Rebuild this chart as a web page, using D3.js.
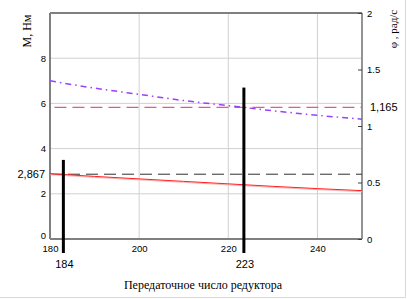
<!DOCTYPE html>
<html>
<head>
<meta charset="utf-8">
<script src="https://cdn.jsdelivr.net/npm/d3@7"></script>
<style>
  body { margin: 0; background: #fff; }
  svg text { font-family: "Liberation Sans", Arial, sans-serif; }
</style>
</head>
<body>
<div id="chartDiv"></div>
<script>
// data
const ratio = [180, 190, 200, 210, 220, 230, 240, 250];
const torque = [2.89, 2.77, 2.66, 2.55, 2.44, 2.33, 2.23, 2.14];      // М, Нм (left axis)
const omega = [1.40, 1.335, 1.28, 1.225, 1.18, 1.135, 1.095, 1.06];   // φ, рад/с (right axis)
const torqueLevel = 2.867;
const omegaLevel = 1.165;
const markerX = [183, 223.5];
const markerTop = [3.5, 6.7];
const markerLabels = ["184", "223"];
const xTicks = [180, 200, 220, 240];
const yTicks = [0, 2, 4, 6, 8];
const y2Ticks = [0, 0.5, 1, 1.5, 2];

var canvasW = 408, canvasH = 299;
const margin = {top: 13, right: 46, bottom: 60, left: 50};
const graphWidth = canvasW - margin.left - margin.right;
const graphHeight = canvasH - margin.top - margin.bottom;

const svg = d3.select('#chartDiv').append('svg')
  .attr('width', canvasW).attr('height', canvasH);

const graph = svg.append('g')
  .attr('transform', `translate(${margin.left},${margin.top})`);

//scales
const x = d3.scaleLinear().domain([180, 250]).range([0, graphWidth]);
const y = d3.scaleLinear().domain([0, 10]).range([graphHeight, 0]);
const y2 = d3.scaleLinear().domain([0, 2]).range([graphHeight, 0]);

// grid
graph.selectAll('.vgrid').data(xTicks.slice(1)).enter().append('line')
  .attr('x1', d => x(d)).attr('x2', d => x(d))
  .attr('y1', 0).attr('y2', graphHeight)
  .attr('stroke', '#d0d0d0').attr('stroke-width', 1);
graph.selectAll('.hgrid').data(yTicks.slice(1)).enter().append('line')
  .attr('x1', 0).attr('x2', graphWidth)
  .attr('y1', d => y(d)).attr('y2', d => y(d))
  .attr('stroke', '#d0d0d0').attr('stroke-width', 1);

// frame
graph.append('line').attr('x1', 0).attr('x2', graphWidth).attr('y1', 0).attr('y2', 0)
  .attr('stroke', '#808080').attr('stroke-width', 2);
graph.append('line').attr('x1', 0).attr('x2', graphWidth).attr('y1', graphHeight).attr('y2', graphHeight)
  .attr('stroke', '#808080').attr('stroke-width', 2);
graph.append('line').attr('x1', 0).attr('x2', 0).attr('y1', 0).attr('y2', graphHeight)
  .attr('stroke', '#808080').attr('stroke-width', 2);
graph.append('line').attr('x1', graphWidth).attr('x2', graphWidth).attr('y1', 0).attr('y2', graphHeight)
  .attr('stroke', '#707070').attr('stroke-width', 1.5);

// axes
const xAxis = d3.axisBottom(x).tickValues(xTicks).tickSize(0).tickPadding(4);
const yAxis = d3.axisLeft(y).tickValues(yTicks).tickSize(0).tickPadding(4);
const y2Axis = d3.axisRight(y2).tickValues(y2Ticks).tickSize(4).tickPadding(1)
  .tickFormat(d => String(d));

const xAxisGroup = graph.append('g').attr('transform', `translate(0,${graphHeight})`).call(xAxis);
const yAxisGroup = graph.append('g').call(yAxis);
const y2AxisGroup = graph.append('g').attr('transform', `translate(${graphWidth},0)`).call(y2Axis);
[xAxisGroup, yAxisGroup, y2AxisGroup].forEach(g => {
  g.select('.domain').remove();
  g.selectAll('text').attr('font-size', 9.5).attr('fill', '#000');
});
y2AxisGroup.selectAll('line').attr('x1', -4).attr('x2', 0).attr('stroke', '#404040');
xAxisGroup.selectAll('text').attr('dy', '0.9em');
// keep the "0" clear of "180"
yAxisGroup.selectAll('text').filter(d => d === 0).attr('dy', '-0.05em');

// horizontal levels
graph.append('line')
  .attr('x1', 0).attr('x2', graphWidth)
  .attr('y1', y(torqueLevel)).attr('y2', y(torqueLevel))
  .attr('stroke', '#303030').attr('stroke-width', 1).attr('stroke-dasharray', '12,6');
graph.append('line')
  .attr('x1', x(181)).attr('x2', graphWidth)
  .attr('y1', y2(omegaLevel)).attr('y2', y2(omegaLevel))
  .attr('stroke', '#f0509a').attr('stroke-width', 1.3).attr('stroke-dasharray', '12,6');

// torque curve
const lineT = d3.line().x((d, i) => x(ratio[i])).y(d => y(d));
graph.append('path').datum(torque)
  .attr('d', lineT).attr('transform', 'translate(0,1)')
  .attr('fill', 'none').attr('stroke', '#ffb0b0').attr('stroke-width', 1);
graph.append('path').datum(torque)
  .attr('d', lineT)
  .attr('fill', 'none').attr('stroke', '#ff2020').attr('stroke-width', 1);

// speed curve
const lineW = d3.line().x((d, i) => x(ratio[i])).y(d => y2(d)).curve(d3.curveMonotoneX);
graph.append('path').datum(omega)
  .attr('d', lineW)
  .attr('fill', 'none').attr('stroke', '#9a40ff').attr('stroke-width', 1.5)
  .attr('stroke-dasharray', '6,4,1.5,4');

// markers
graph.selectAll('.marker').data(markerX).enter().append('line')
  .attr('x1', d => x(d)).attr('x2', d => x(d))
  .attr('y1', (d, i) => y(markerTop[i])).attr('y2', y(-0.62))
  .attr('stroke', '#000').attr('stroke-width', 3);
graph.selectAll('.mlabel').data(markerX).enter().append('text')
  .attr('x', d => x(d) + 1).attr('y', graphHeight + 29)
  .attr('text-anchor', 'middle').attr('font-size', 11)
  .text((d, i) => markerLabels[i]);

// level labels
graph.append('text').attr('x', -5).attr('y', y(torqueLevel)).attr('dy', '0.35em')
  .attr('text-anchor', 'end').attr('font-size', 11).text('2,867');
graph.append('text').attr('x', graphWidth + 8).attr('y', y2(omegaLevel)).attr('dy', '0.35em')
  .attr('font-size', 11).text('1,165');

// titles
svg.append('text')
  .attr('transform', 'translate(31,31) rotate(-90)')
  .attr('text-anchor', 'middle').attr('font-size', 12)
  .style('font-family', '"Liberation Serif", "Times New Roman", serif')
  .text('М, Нм');
svg.append('text')
  .attr('transform', 'translate(397,29) rotate(-90)')
  .attr('text-anchor', 'middle').attr('font-size', 11)
  .style('font-family', '"Liberation Serif", "Times New Roman", serif')
  .text('φ , рад/с');
svg.append('text')
  .attr('x', 203).attr('y', 289)
  .attr('text-anchor', 'middle').attr('font-size', 12)
  .style('font-family', '"Liberation Serif", "Times New Roman", serif')
  .text('Передаточное число редуктора');

// outer region border
svg.append('line').attr('x1', 405.5).attr('x2', 405.5).attr('y1', 0).attr('y2', 297.5)
  .attr('stroke', '#d8d8d8');
svg.append('line').attr('x1', 0).attr('x2', 405.5).attr('y1', 297.5).attr('y2', 297.5)
  .attr('stroke', '#d8d8d8');
</script>
</body>
</html>
